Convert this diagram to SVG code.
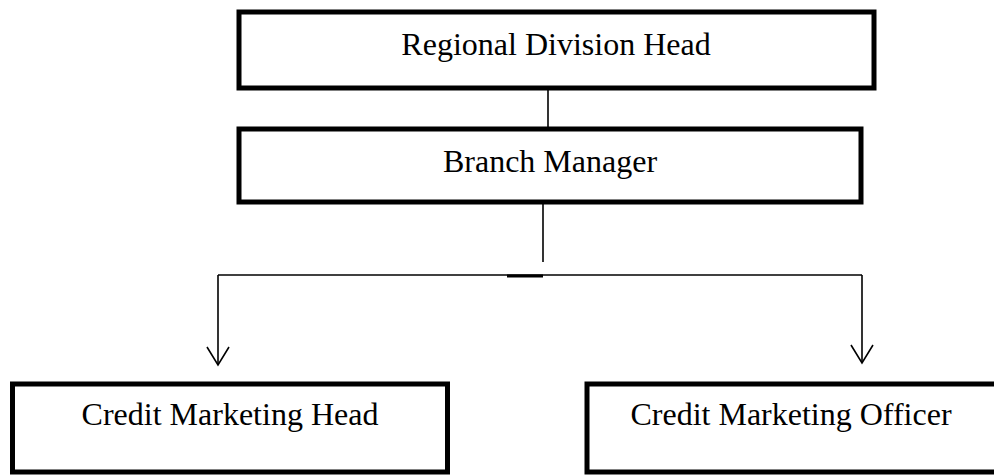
<svg xmlns="http://www.w3.org/2000/svg" width="994" height="475" viewBox="0 0 994 475">
<style>
.box{fill:#fff;stroke:#000;stroke-width:5}
.lbl{font-family:"Liberation Serif","Times New Roman",serif;font-size:32px;fill:#000;text-anchor:middle}
.ln{fill:none;stroke:#000;stroke-width:1.6}
</style>
<rect width="994" height="475" fill="#fff"/>
<g id="connectors">
<line class="ln" x1="548" y1="90" x2="548" y2="127"/>
<line class="ln" x1="543" y1="204" x2="543" y2="262"/>
<line class="ln" x1="218" y1="275" x2="862" y2="275"/>
<line x1="507" y1="276" x2="543" y2="276" stroke="#000" stroke-width="3"/>
<line class="ln" x1="218" y1="275" x2="218" y2="364"/>
<polyline class="ln" points="207,347 218,365 229,347"/>
<line class="ln" x1="862" y1="275" x2="862" y2="362"/>
<polyline class="ln" points="851,345 862,363 873,345"/>
</g>
<g id="regional-division-head">
<rect class="box" x="239" y="12" width="635" height="76"/>
<text class="lbl" x="556" y="55">Regional Division Head</text>
</g>
<g id="branch-manager">
<rect class="box" x="239" y="129" width="622" height="73"/>
<text class="lbl" x="550" y="172">Branch Manager</text>
</g>
<g id="credit-marketing-head">
<rect class="box" x="12.5" y="384" width="435" height="88"/>
<text class="lbl" x="230" y="425">Credit Marketing Head</text>
</g>
<g id="credit-marketing-officer">
<rect class="box" x="587" y="384" width="410" height="88"/>
<text class="lbl" x="791" y="425">Credit Marketing Officer</text>
</g>
</svg>
